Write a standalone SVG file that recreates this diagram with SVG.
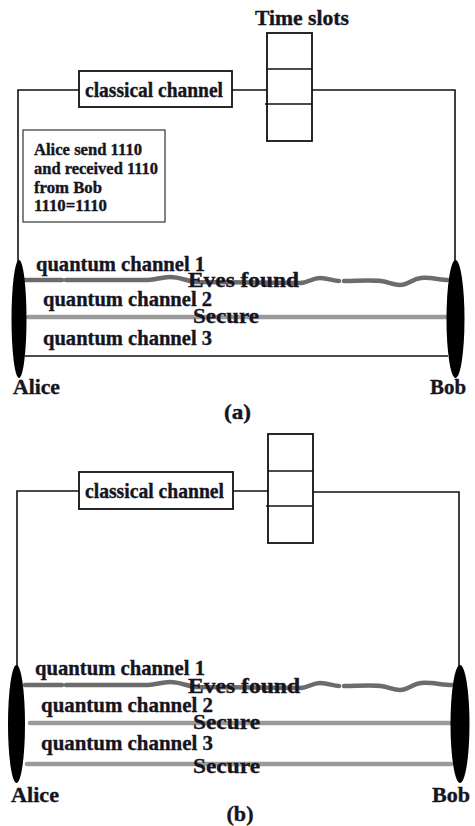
<svg xmlns="http://www.w3.org/2000/svg" width="475" height="826" viewBox="0 0 475 826">
  <style>
    .t { font-family: "Liberation Serif", "Times New Roman", serif; font-weight: bold; fill: #15151f; stroke: #15151f; stroke-width: 0.35; }
    .q { font-size: 20.5px; }
    .big { font-size: 21px; }
    .note { font-size: 16px; }
    .box { fill: #fff; stroke: #111; stroke-width: 1.8; }
    .wire { fill: none; stroke: #111; stroke-width: 1.6; }
    .q1 { fill: none; stroke: #6c6c6c; stroke-width: 4.5; stroke-linecap: round; stroke-linejoin: round; }
    .q2 { fill: none; stroke: #9a9a9a; stroke-width: 4.5; stroke-linecap: round; }
    .party { fill: #000; }
  </style>

  <!-- ===================== Panel (a) ===================== -->
  <g id="panel-a">
    <!-- classical links and quantum channels -->
    <g id="connectors-a">
      <polyline class="wire" points="18,262 18,90 79,90"/>
      <line class="wire" x1="232" y1="90" x2="267" y2="90"/>
      <polyline class="wire" points="312,90 455,90 455,262"/>
      <path class="q1" d="M25,280 L62,280 M66,280 L148,280 C156,280 161,277 170,277 C180,277 186,281 196,282 L300,283 C308,283 312,278 320,278 C328,278 333,281 339,281 M344,281 C356,281 370,280 381,281 C389,282 393,285 400,285 C408,285 412,279 421,278 C431,277 440,280 448,280"/>
      <line class="q2" x1="28" y1="317" x2="447" y2="317"/>
      <line class="wire" x1="25" y1="356" x2="448" y2="356"/>
    </g>

    <g id="a-time-slots">
      <text class="t" x="302" y="25" font-size="20" text-anchor="middle" textLength="94" lengthAdjust="spacingAndGlyphs">Time slots</text>
      <rect class="box" x="267" y="33" width="45" height="108"/>
      <line class="wire" x1="267" y1="69" x2="312" y2="69"/>
      <line class="wire" x1="265" y1="104" x2="312" y2="104"/>
    </g>

    <g id="a-classical-channel">
      <rect class="box" x="79" y="71" width="153" height="36"/>
      <text class="t" x="85" y="97" font-size="20" textLength="138" lengthAdjust="spacingAndGlyphs">classical channel</text>
    </g>

    <g id="a-note">
      <rect x="23" y="130" width="142" height="92" fill="#fff" stroke="#333" stroke-width="1.2"/>
      <text class="t note" x="34" y="155" textLength="108" lengthAdjust="spacingAndGlyphs">Alice send 1110</text>
      <text class="t note" x="34" y="174" textLength="124" lengthAdjust="spacingAndGlyphs">and received 1110</text>
      <text class="t note" x="34" y="193" textLength="68" lengthAdjust="spacingAndGlyphs">from Bob</text>
      <text class="t note" x="34" y="211" textLength="73" lengthAdjust="spacingAndGlyphs">1110=1110</text>
    </g>

    <g id="a-channel-labels">
      <text class="t q" x="36" y="271" textLength="169" lengthAdjust="spacingAndGlyphs">quantum channel 1</text>
      <text class="t big" x="188" y="287" textLength="111" lengthAdjust="spacingAndGlyphs">Eves found</text>
      <text class="t q" x="43" y="306" textLength="169" lengthAdjust="spacingAndGlyphs">quantum channel 2</text>
      <text class="t big" x="193" y="323" textLength="66" lengthAdjust="spacingAndGlyphs">Secure</text>
      <text class="t q" x="43" y="345" textLength="169" lengthAdjust="spacingAndGlyphs">quantum channel 3</text>
    </g>

    <g id="a-alice">
      <ellipse class="party" cx="19" cy="319" rx="7.5" ry="59"/>
      <text class="t big" x="13" y="394" textLength="47" lengthAdjust="spacingAndGlyphs">Alice</text>
    </g>
    <g id="a-bob">
      <ellipse class="party" cx="455.5" cy="319" rx="9" ry="59"/>
      <text class="t big" x="430" y="394" textLength="36" lengthAdjust="spacingAndGlyphs">Bob</text>
    </g>

    <text class="t" x="237.5" y="419" font-size="20" text-anchor="middle" textLength="27" lengthAdjust="spacingAndGlyphs">(a)</text>
  </g>

  <!-- ===================== Panel (b) ===================== -->
  <g id="panel-b">
    <g id="connectors-b">
      <polyline class="wire" points="17,666 17,491 79,491"/>
      <line class="wire" x1="233" y1="491" x2="268" y2="491"/>
      <polyline class="wire" points="313,492 459,492 459,666"/>
      <path class="q1" d="M25,685 L62,685 M66,685 L148,685 C156,685 161,682 170,682 C180,682 186,686 196,687 L300,688 C308,688 312,683 320,683 C328,683 333,686 339,686 M344,686 C356,686 370,685 381,686 C389,687 393,690 400,690 C408,690 412,684 421,683 C431,682 442,685 452,685"/>
      <line class="q2" x1="30" y1="723" x2="451" y2="723"/>
      <line class="q2" x1="27" y1="764" x2="451" y2="764"/>
    </g>

    <g id="b-time-slots">
      <rect class="box" x="268" y="434" width="45" height="109"/>
      <line class="wire" x1="268" y1="471" x2="313" y2="471"/>
      <line class="wire" x1="266" y1="506" x2="313" y2="506"/>
    </g>

    <g id="b-classical-channel">
      <rect class="box" x="79" y="472" width="154" height="37"/>
      <text class="t" x="85" y="498" font-size="20" textLength="139" lengthAdjust="spacingAndGlyphs">classical channel</text>
    </g>

    <g id="b-channel-labels">
      <text class="t q" x="35" y="675" textLength="170" lengthAdjust="spacingAndGlyphs">quantum channel 1</text>
      <text class="t big" x="188" y="693" textLength="112" lengthAdjust="spacingAndGlyphs">Eves found</text>
      <text class="t q" x="41" y="712" textLength="172" lengthAdjust="spacingAndGlyphs">quantum channel 2</text>
      <text class="t big" x="193" y="729" textLength="67" lengthAdjust="spacingAndGlyphs">Secure</text>
      <text class="t q" x="41" y="750" textLength="172" lengthAdjust="spacingAndGlyphs">quantum channel 3</text>
      <text class="t big" x="193" y="773" textLength="67" lengthAdjust="spacingAndGlyphs">Secure</text>
    </g>

    <g id="b-alice">
      <ellipse class="party" cx="16.5" cy="724" rx="8.5" ry="59"/>
      <text class="t big" x="11" y="802" textLength="48" lengthAdjust="spacingAndGlyphs">Alice</text>
    </g>
    <g id="b-bob">
      <ellipse class="party" cx="460" cy="724" rx="9.5" ry="59"/>
      <text class="t big" x="432" y="802" textLength="38" lengthAdjust="spacingAndGlyphs">Bob</text>
    </g>

    <text class="t" x="240" y="821" font-size="20" text-anchor="middle" textLength="27" lengthAdjust="spacingAndGlyphs">(b)</text>
  </g>
</svg>
